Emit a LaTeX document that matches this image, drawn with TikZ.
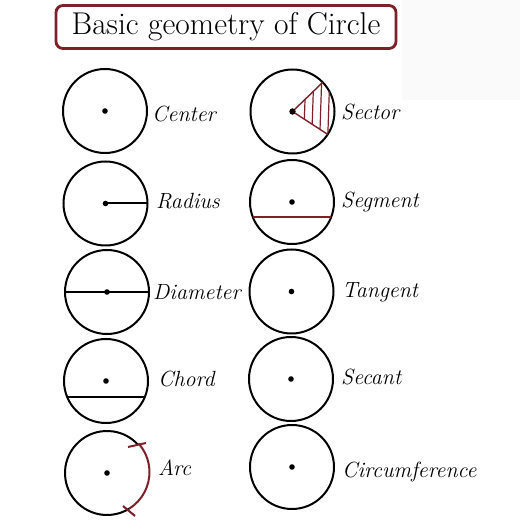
\documentclass[tikz,border=0pt]{standalone}
\usepackage{tikz}
\usetikzlibrary{calc}
\definecolor{wine}{RGB}{125,32,42}

\tikzset{
  disc/.style={circle,draw,line width=2pt,minimum size=84pt,inner sep=0pt,outer sep=0pt},
  lbl/.style={anchor=base west,inner sep=0pt,font=\fontsize{22}{24}\selectfont\itshape},
  hatch/.style={wine,line width=1.2pt}
}

\begin{document}
\begin{tikzpicture}[x=1pt,y=1pt]
\useasboundingbox (0,0) rectangle (520,520);
\fill[black!2] (402,420) rectangle (520,520);
% title
\node[draw=wine,line width=2.8pt,rounded corners=7pt,minimum width=340pt,minimum height=43pt,
  font=\fontsize{31.5}{33}\selectfont] (title) at (226,493) {Basic geometry of Circle};

% left column
\node[disc] (cen) at (105,409) {};
\node[disc] (rad) at (105.5,316.5) {};
\node[disc] (dia) at (107,228) {};
\node[disc] (cho) at (106,139) {};
\node[disc,draw=none] (arcc) at (107,47) {};
\foreach \c in {cen,rad,dia,cho,arcc}
  \fill (\c) circle (2.8pt);
\draw[line width=2pt] (rad.center) -- (rad.east);
\draw[line width=2pt] (dia.west) -- (dia.east);
\draw[line width=2pt] (cho.202) -- (cho.338);
\draw[line width=2pt] (arcc.42) arc[start angle=42,end angle=302,radius=42pt];
\draw[wine,line width=2pt] (arcc.-58) arc[start angle=-58,end angle=42,radius=43pt];
\draw[wine,line width=2pt] ($(arcc)+(21,26)$) -- ($(arcc)+(39,30)$);
\draw[wine,line width=2pt] ($(arcc)+(16,-33)$) -- ($(arcc)+(28,-43)$);
\node[lbl] (cenlbl) at (152,398) {Center};
\node[lbl] (radlbl) at (156,311) {Radius};
\node[lbl] (dialbl) at (153,220) {Diameter};
\node[lbl] (cholbl) at (158,133) {Chord};
\node[lbl] (arclbl) at (158,45) {Arc};

% right column
\node[disc] (sec) at (292.5,408.5) {};
\node[disc] (seg) at (292,318) {};
\node[disc] (tan) at (291.5,228.5) {};
\node[disc] (scn) at (291,141) {};
\node[disc] (cir) at (292,53) {};
\foreach \c in {sec,seg,tan,scn,cir}
  \fill (\c) circle (2.8pt);
\begin{scope}
\clip (sec.center) -- (sec.-33) arc[start angle=-33,end angle=44,radius=42pt] -- cycle;
\foreach \x in {303,311,...,335}
  \draw[hatch] (\x,360) -- (\x+3,450);
\end{scope}
\draw[wine,line width=1.4pt] (sec.-33) -- (sec.center) -- (sec.44);
\fill[black!85!wine] (sec) circle (3.2pt);
\draw[wine,line width=2pt] (seg.201) -- (seg.339);
\node[lbl] (seclbl) at (341,400) {Sector};
\node[lbl] (seglbl) at (341,312) {Segment};
\node[lbl] (tanlbl) at (342,222) {Tangent};
\node[lbl] (scnlbl) at (341,135) {Secant};
\node[lbl] (cirlbl) at (342,42) {Circumference};
\end{tikzpicture}
\end{document}
